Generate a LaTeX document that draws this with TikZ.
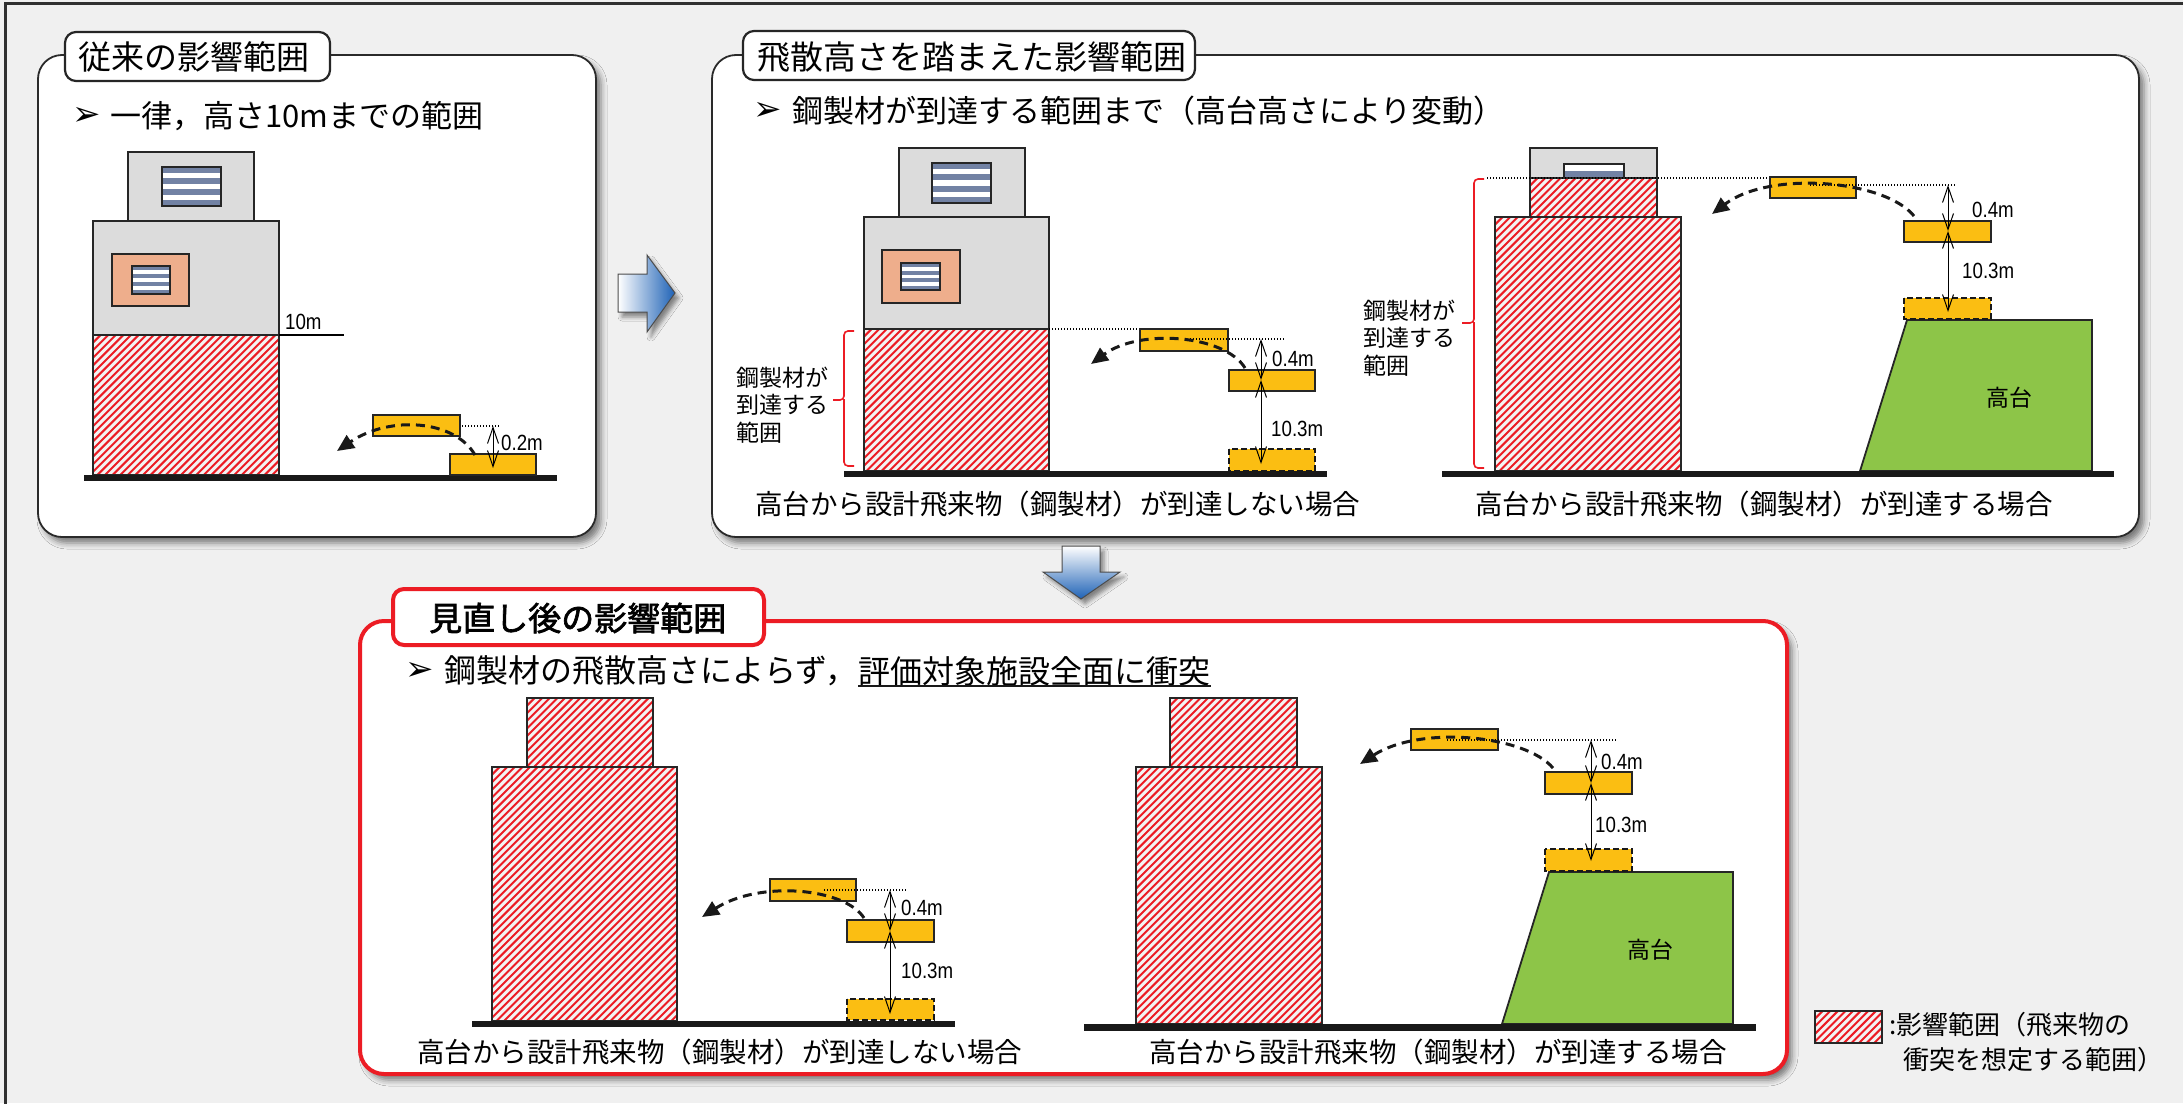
\documentclass[tikz,border=0pt]{standalone}
\usepackage{fontspec}
\setmainfont{Noto Sans CJK JP}
\newfontfamily\numfont[FakeStretch=0.85]{Liberation Sans}
\newfontfamily\dingfont{DejaVu Sans}
\newfontfamily\jpboldfont[FakeBold=2]{Noto Sans CJK JP}
\usetikzlibrary{arrows.meta,shadows.blur,calc}

\definecolor{bgc}{HTML}{F0F0F0}
\definecolor{framec}{HTML}{303030}
\definecolor{panelc}{HTML}{2A2A2A}
\definecolor{redc}{HTML}{EC1C24}
\definecolor{bldgc}{HTML}{DCDCDC}
\definecolor{salmonc}{HTML}{EEAE8C}
\definecolor{stripec}{HTML}{7282A4}
\definecolor{yellowc}{HTML}{FBBE12}
\definecolor{greenc}{HTML}{8DC548}
\definecolor{bluec}{HTML}{1E62B6}
\definecolor{hatchbg}{HTML}{F3F3F3}

% hatched "affected area": #1,#2 top-left, #3,#4 bottom-right
\newcommand\hatchfill[4]{%
  \fill[hatchbg] (#1,#2) rectangle (#3,#4);
  \begin{scope}
    \clip (#1,#2) rectangle (#3,#4);
    \pgfmathsetmacro\hH{#4-#2}
    \pgfmathsetmacro\hA{#1-\hH}
    \pgfmathsetmacro\hB{\hA+7.6}
    \foreach \k in {\hA,\hB,...,#3}
      \draw[hatchline] (\k,#4) -- ++(\hH,-\hH);
  \end{scope}}

% striped window
\newcommand\stripewin[4]{%
  \fill[white] (#1,#2) rectangle (#3,#4);
  \pgfmathsetmacro\wH{(#4-#2)/7}
  \foreach \j in {0,2,4,6}
    \fill[stripec] (#1,{#2+\j*\wH}) rectangle (#3,{#2+(\j+1)*\wH});
  \draw[winframe] (#1,#2) rectangle (#3,#4);}

\begin{document}
\begin{tikzpicture}[x=1pt,y=-1pt,
  panel/.style={fill=white, draw=panelc, line width=1.8pt, rounded corners=24pt,
    blur shadow={shadow xshift=5pt, shadow yshift=-6pt, shadow blur radius=6pt, shadow opacity=50}},
  redpanel/.style={panel, draw=redc, line width=4pt},
  tabbox/.style={fill=white, draw=black!85, line width=2.2pt, rounded corners=11pt},
  redtab/.style={tabbox, draw=redc, line width=4pt},
  tabtxt/.style={inner sep=0pt, anchor=west, font=\fontsize{33}{36}\selectfont},
  tabbold/.style={inner sep=0pt, anchor=west, font=\jpboldfont\fontsize{33}{36}\selectfont},
  bulmark/.style={inner sep=0pt, anchor=west, font=\dingfont\fontsize{34}{34}\selectfont},
  bultxt/.style={inner sep=0pt, anchor=west, font=\fontsize{31}{34}\selectfont},
  captxt/.style={inner sep=0pt, anchor=west, font=\fontsize{27.5}{30}\selectfont},
  lbltxt/.style={inner sep=0pt, anchor=west, align=left, font=\fontsize{23}{27.5}\selectfont},
  dimtxt/.style={inner sep=0pt, anchor=west, font=\numfont\fontsize{22}{22}\selectfont},
  legtxt/.style={inner sep=0pt, anchor=west, font=\fontsize{26}{28}\selectfont},
  bline/.style={draw=black!85, line width=1.6pt},
  bldg/.style={fill=bldgc, draw=black!85, line width=1.6pt},
  winframe/.style={draw=black!85, line width=2pt},
  salmonwin/.style={fill=salmonc, draw=black!85, line width=2pt},
  hatchline/.style={draw=redc, line width=2pt},
  piece/.style={fill=yellowc, draw=black!85, line width=2pt},
  ghost/.style={fill=yellowc, draw=black!90, line width=2.2pt, dash pattern=on 6pt off 3pt},
  ground/.style={fill=black!90},
  refline/.style={draw=black, line width=1.4pt, dash pattern=on 1.4pt off 1.6pt},
  dimarrow/.style={draw=black, line width=1pt,
    {Straight Barb[length=16pt,width=11pt]}-{Straight Barb[length=16pt,width=11pt]}},
  flight/.style={draw=black!90, line width=3pt, dash pattern=on 9pt off 6pt,
    -{Triangle[length=17pt,width=15pt]}},
  bracket/.style={draw=redc, line width=1.6pt, rounded corners=4pt},
  plateau/.style={fill=greenc, draw=black!85, line width=1.8pt},
  blockarrow/.style={draw=black!70, line width=1pt,
    blur shadow={shadow xshift=4pt, shadow yshift=-5pt, shadow blur radius=4pt, shadow opacity=45}}
]
\useasboundingbox (0,0) rectangle (2183,1103);
\fill[bgc] (0,0) rectangle (2183,1103);
\draw[framec, line width=3pt] (5,1110) -- (5,3) -- (2190,3);

%% ---------------- panel 1: conventional range ----------------
\draw[panel] (38,55) rectangle (596,537);
\draw[tabbox] (65,32) rectangle (330,81);
\node[tabtxt] (t1) at (78,57) {従来の影響範囲};
\node[bulmark] (m1) at (72,116) {➢};
\node[bultxt] (b1) at (110,116) {一律，高さ10mまでの範囲};

\fill[bldgc] (93,221) rectangle (279,335);
\hatchfill{93}{335}{279}{475}
\draw[bline] (93,221) rectangle (279,475);
\draw[bline] (93,335) -- (279,335);
\draw[bldg] (128,152) rectangle (254,221);
\stripewin{162}{167}{221}{206}
\draw[salmonwin] (112,254) rectangle (189,306);
\stripewin{132}{266}{170}{294}
\coordinate (l10a) at (279,335);
\coordinate (l10b) at (344,335);
\draw[black, line width=1.4pt] (l10a) -- (l10b);
\node[dimtxt] (h10) at (285,322) {10m};
\fill[ground] (84,475) rectangle (557,481);

\draw[piece] (373,415) rectangle (460,436);
\draw[piece] (450,454) rectangle (536,475);
\coordinate (r1a) at (462,426);
\coordinate (r1b) at (499,426);
\draw[refline] (r1a) -- (r1b);
\coordinate (a1t) at (493,426);
\coordinate (a1b) at (493,468);
\draw[dimarrow] (a1t) -- (a1b);
\node[dimtxt] (d1) at (501,443) {0.2m};
\coordinate (f1s) at (475,455);
\coordinate (f1e) at (337,451);
\draw[flight] (f1s) .. controls (455,420) and (390,415) .. (f1e);

%% right block arrow
\draw[blockarrow, left color=white, right color=bluec]
  (618,274) -- (647,274) -- (647,255) -- (675,293) -- (647,332) -- (647,312) -- (618,312) -- cycle;

%% ---------------- panel 2: range based on scattering height ----------------
\draw[panel] (712,55) rectangle (2139,537);
\draw[tabbox] (743,31) rectangle (1195,80);
\node[tabtxt] (t2) at (757,57) {飛散高さを踏まえた影響範囲};
\node[bulmark] (m2) at (753,111) {➢};
\node[bultxt] (b2) at (792,111) {鋼製材が到達する範囲まで（高台高さにより変動）};

% left case
\fill[bldgc] (864,217) rectangle (1049,329);
\hatchfill{864}{329}{1049}{471}
\draw[bline] (864,217) rectangle (1049,471);
\draw[bline] (864,329) -- (1049,329);
\draw[bldg] (899,148) rectangle (1025,217);
\stripewin{932}{163}{991}{203}
\draw[salmonwin] (882,250) rectangle (960,303);
\stripewin{901}{263}{940}{290}
\fill[ground] (844,471) rectangle (1327,477);

\coordinate (r2a) at (1049,329);
\coordinate (r2b) at (1140,329);
\draw[refline] (r2a) -- (r2b);
\draw[piece] (1140,329) rectangle (1228,351);
\draw[piece] (1229,370) rectangle (1315,391);
\draw[ghost] (1229,449) rectangle (1315,471);
\coordinate (r2c) at (1190,339);
\coordinate (r2d) at (1284,339);
\draw[refline] (r2c) -- (r2d);
\coordinate (a2t) at (1261,339);
\coordinate (a2m) at (1261,380);
\coordinate (a2b) at (1261,464);
\draw[dimarrow] (a2t) -- (a2m);
\draw[dimarrow] (a2m) -- (a2b);
\node[dimtxt] (d2a) at (1272,359) {0.4m};
\node[dimtxt] (d2b) at (1271,429) {10.3m};
\coordinate (f2s) at (1245,368);
\coordinate (f2e) at (1091,364);
\draw[flight] (f2s) .. controls (1225,335) and (1140,328) .. (f2e);

\draw[bracket] (854,331) -- (844,331) -- (844,400) -- (833,400);
\draw[bracket] (844,399) -- (844,466) -- (854,466);
\node[lbltxt] (k2) at (736,405) {鋼製材が\\到達する\\範囲};
\node[captxt] (c2) at (755,504) {高台から設計飛来物（鋼製材）が到達しない場合};

% right case
\hatchfill{1495}{217}{1681}{471}
\draw[bline] (1495,217) rectangle (1681,471);
\fill[bldgc] (1530,148) rectangle (1657,178);
\hatchfill{1530}{178}{1657}{217}
\draw[bline] (1530,148) rectangle (1657,217);
\draw[bline] (1530,178) -- (1657,178);
\fill[white] (1564,164) rectangle (1624,178);
\fill[stripec] (1564,171) rectangle (1624,177);
\draw[winframe] (1564,164) rectangle (1624,178);
\draw[plateau] (1907,320) -- (2092,320) -- (2092,471) -- (1860,471) -- cycle;
\node[inner sep=0pt, font=\fontsize{23}{23}\selectfont] (g2) at (2009,398) {高台};
\fill[ground] (1442,471) rectangle (2114,477);

\coordinate (r3a) at (1487,178);
\coordinate (r3b) at (1770,178);
\draw[refline] (r3a) -- (r3b);
\draw[piece] (1770,177) rectangle (1856,198);
\draw[piece] (1904,221) rectangle (1991,242);
\draw[ghost] (1904,298) rectangle (1991,319);
\coordinate (r3c) at (1810,185);
\coordinate (r3d) at (1955,185);
\draw[refline] (r3c) -- (r3d);
\coordinate (a3t) at (1948,185);
\coordinate (a3m) at (1948,231);
\coordinate (a3b) at (1948,312);
\draw[dimarrow] (a3t) -- (a3m);
\draw[dimarrow] (a3m) -- (a3b);
\node[dimtxt] (d3a) at (1972,210) {0.4m};
\node[dimtxt] (d3b) at (1962,271) {10.3m};
\coordinate (f3s) at (1914,216);
\coordinate (f3e) at (1712,214);
\draw[flight] (f3s) .. controls (1885,180) and (1770,170) .. (f3e);

\draw[bracket] (1484,179) -- (1474,179) -- (1474,323) -- (1462,323);
\draw[bracket] (1474,322) -- (1474,468) -- (1484,468);
\node[lbltxt] (k3) at (1363,338) {鋼製材が\\到達する\\範囲};
\node[captxt] (c3) at (1475,504) {高台から設計飛来物（鋼製材）が到達する場合};

%% down block arrow
\draw[blockarrow, top color=white, bottom color=bluec]
  (1062,546) -- (1100,546) -- (1100,572) -- (1120,572) -- (1081,599) -- (1043,572) -- (1062,572) -- cycle;

%% ---------------- panel 3: revised range ----------------
\draw[redpanel] (360,621) rectangle (1787,1074);
\draw[redtab] (393,589) rectangle (764,645);
\node[tabbold] (t3) at (429,618) {見直し後の影響範囲};
\node[bulmark] (m3) at (405,671) {➢};
\node[bultxt, font=\fontsize{32}{34}\selectfont] (b3a) at (444,671) {鋼製材の飛散高さによらず，};
\node[bultxt, font=\fontsize{32}{34}\selectfont, anchor=west] (b3b) at (b3a.east) {評価対象施設全面に衝突};
\draw[black!90, line width=2pt] ($(b3b.west)+(0,15)$) -- ($(b3b.east)+(0,15)$);

% left case
\hatchfill{492}{767}{677}{1021}
\draw[bline] (492,767) rectangle (677,1021);
\hatchfill{527}{698}{653}{767}
\draw[bline] (527,698) rectangle (653,767);
\fill[ground] (472,1021) rectangle (955,1027);
\draw[piece] (770,879) rectangle (856,901);
\draw[piece] (847,920) rectangle (934,942);
\draw[ghost] (847,999) rectangle (934,1020);
\coordinate (r4a) at (824,890);
\coordinate (r4b) at (907,890);
\draw[refline] (r4a) -- (r4b);
\coordinate (a4t) at (890,890);
\coordinate (a4m) at (890,931);
\coordinate (a4b) at (890,1014);
\draw[dimarrow] (a4t) -- (a4m);
\draw[dimarrow] (a4m) -- (a4b);
\node[dimtxt] (d4a) at (901,908) {0.4m};
\node[dimtxt] (d4b) at (901,971) {10.3m};
\coordinate (f4s) at (864,918);
\coordinate (f4e) at (702,917);
\draw[flight] (f4s) .. controls (845,888) and (760,880) .. (f4e);
\node[captxt] (c4) at (417,1052) {高台から設計飛来物（鋼製材）が到達しない場合};

% right case
\hatchfill{1136}{767}{1322}{1024}
\draw[bline] (1136,767) rectangle (1322,1024);
\hatchfill{1170}{698}{1297}{767}
\draw[bline] (1170,698) rectangle (1297,767);
\draw[plateau] (1549,872) -- (1733,872) -- (1733,1024) -- (1502,1024) -- cycle;
\node[inner sep=0pt, font=\fontsize{23}{23}\selectfont] (g4) at (1650,950) {高台};
\fill[ground] (1084,1024) rectangle (1756,1031);
\draw[piece] (1411,729) rectangle (1498,750);
\draw[piece] (1545,772) rectangle (1632,794);
\draw[ghost] (1545,849) rectangle (1632,871);
\coordinate (r5a) at (1447,740);
\coordinate (r5b) at (1617,740);
\draw[refline] (r5a) -- (r5b);
\coordinate (a5t) at (1591,740);
\coordinate (a5m) at (1591,783);
\coordinate (a5b) at (1591,861);
\draw[dimarrow] (a5t) -- (a5m);
\draw[dimarrow] (a5m) -- (a5b);
\node[dimtxt] (d5a) at (1601,762) {0.4m};
\node[dimtxt] (d5b) at (1595,825) {10.3m};
\coordinate (f5s) at (1553,768);
\coordinate (f5e) at (1360,764);
\draw[flight] (f5s) .. controls (1525,735) and (1420,725) .. (f5e);
\node[captxt] (c5) at (1149,1052) {高台から設計飛来物（鋼製材）が到達する場合};

%% ---------------- legend ----------------
\hatchfill{1815}{1011}{1882}{1043}
\draw[black!85, line width=2.4pt] (1815,1011) rectangle (1882,1043);
\node[legtxt] (lg1) at (1889,1025) {:影響範囲（飛来物の};
\node[legtxt] (lg2) at (1903,1060) {衝突を想定する範囲）};
\end{tikzpicture}
\end{document}
